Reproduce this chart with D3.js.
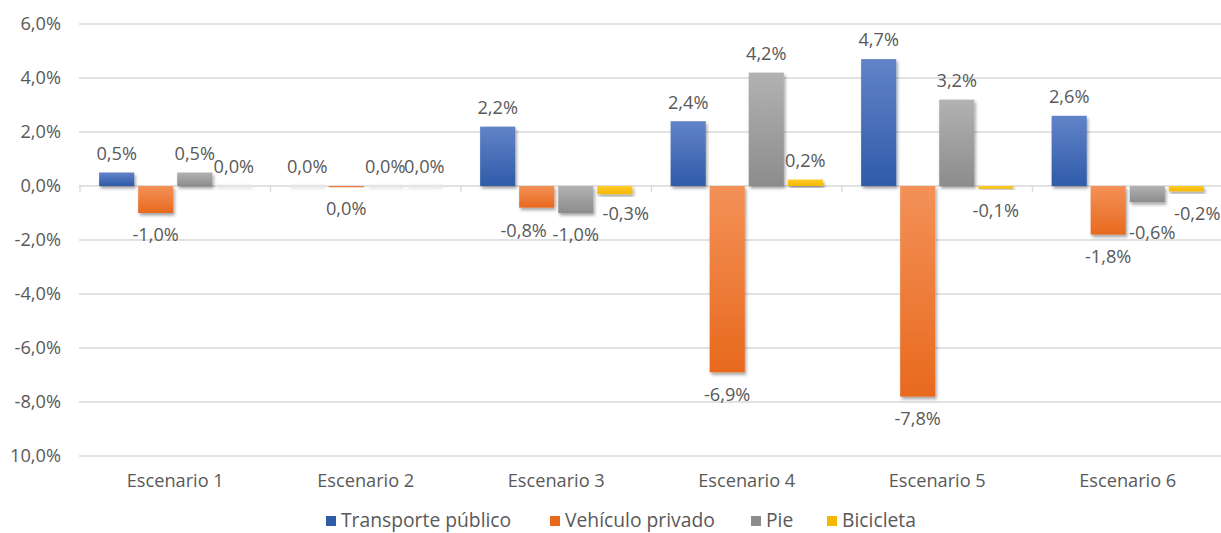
<!DOCTYPE html>
<html><head><meta charset="utf-8">
<script src="https://cdn.jsdelivr.net/npm/d3@7/dist/d3.min.js"></script>
<style>
body{margin:0;background:#fff;}
text{font-family:"Open Sans","Noto Sans",sans-serif;fill:#595959;}
</style></head>
<body><svg id="c" width="1221" height="533"></svg>
<script>
const categories = ["Escenario 1","Escenario 2","Escenario 3","Escenario 4","Escenario 5","Escenario 6"];
const seriesNames = ["Transporte público","Vehículo privado","Pie","Bicicleta"];
const transporte = [0.5, 0.0, 2.2, 2.4, 4.7, 2.6];
const vehiculo   = [-1.0, -0.04, -0.8, -6.9, -7.8, -1.8];
const pie        = [0.5, 0.0, -1.0, 4.2, 3.2, -0.6];
const bicicleta  = [0.0, 0.0, -0.3, 0.24, -0.1, -0.2];
const yTicks = [-10,-8,-6,-4,-2,0,2,4,6];
const yTickLabels = ["10,0%","-8,0%","-6,0%","-4,0%","-2,0%","0,0%","2,0%","4,0%","6,0%"];
const colors = [["#6283c8","#2f5ba9"],["#f39157","#e8691e"],["#b2b2b2","#8c8c8c"],["#ffcb2a","#f5b800"]];
// manual data-label nudges (style only), keyed "series-category": [dx, dy]
const labelNudge = {"1-2":[-13,1],"3-2":[11,-2],"2-5":[5,8],"3-5":[11,0]};

const allSeries = [transporte, vehiculo, pie, bicicleta];
const svg = d3.select("#c");
const defs = svg.append("defs");
colors.forEach((c,i)=>{
  const g = defs.append("linearGradient").attr("id","g"+i).attr("x1",0).attr("y1",0).attr("x2",0).attr("y2",1);
  g.append("stop").attr("offset","0%").attr("stop-color",c[0]);
  g.append("stop").attr("offset","100%").attr("stop-color",c[1]);
});
const f = defs.append("filter").attr("id","sh").attr("x","-20%").attr("y","-20%").attr("width","150%").attr("height","150%");
f.append("feDropShadow").attr("dx",1.5).attr("dy",2.5).attr("stdDeviation",1.8).attr("flood-color","#000").attr("flood-opacity",0.35);
const fz = defs.append("filter").attr("id","zs").attr("x","-20%").attr("y","-200%").attr("width","150%").attr("height","500%");
fz.append("feGaussianBlur").attr("stdDeviation",1.5);

const x = d3.scaleBand().domain(categories).range([80,1223]);
const xs = d3.scaleBand().domain(seriesNames).range([0,x.bandwidth()]).paddingInner(0.1).paddingOuter(0.49);
const y = d3.scaleLinear().domain([-10,6]).range([456,24]);
const FS = "18.2px";

// gridlines
svg.append("g").selectAll("line").data(yTicks.filter(d=>d!==0)).join("line")
  .attr("x1",79).attr("x2",1221).attr("y1",d=>y(d)).attr("y2",d=>y(d))
  .attr("stroke","#d9d9d9").attr("stroke-width",1.3);

// y labels
svg.append("g").selectAll("text").data(yTicks).join("text")
  .attr("x",61).attr("y",d=>y(d)).attr("dy","0.35em").attr("text-anchor","end")
  .style("font-size",FS).text((d,i)=>yTickLabels[i]);

// zero axis
svg.append("line").attr("x1",79).attr("x2",1221).attr("y1",y(0)).attr("y2",y(0)).attr("stroke","#d9d9d9").attr("stroke-width",1.3);
svg.append("g").selectAll("line").data(d3.range(categories.length+1)).join("line")
  .attr("x1",i=>80+i*x.step()).attr("x2",i=>80+i*x.step()).attr("y1",y(0)).attr("y2",y(0)+6)
  .attr("stroke","#d9d9d9").attr("stroke-width",1.3);

// x labels
svg.append("g").selectAll("text").data(categories).join("text")
  .attr("x",d=>x(d)+x.bandwidth()/2).attr("y",481).attr("dy","0.35em").attr("text-anchor","middle")
  .style("font-size",FS).text(d=>d);

const fmt = v => { const r = Math.round(v*10)/10; return (Math.abs(r)<0.05?"0,0":r.toFixed(1).replace(".",","))+"%"; };

const bars = svg.append("g");
const labels = svg.append("g");
allSeries.forEach((vals,si)=>{
  vals.forEach((v,ci)=>{
    const bx = x(categories[ci]) + xs(seriesNames[si]);
    const w = xs.bandwidth();
    if (v === 0) {
      bars.append("rect").attr("x",bx+1).attr("y",y(0)-1).attr("width",w).attr("height",4)
        .attr("fill","#e6e6e6").attr("filter","url(#zs)");
    } else {
      bars.append("rect").attr("x",bx).attr("y",y(Math.max(0,v))).attr("width",w)
        .attr("height",Math.max(1.2,Math.abs(y(v)-y(0))))
        .attr("fill","url(#g"+si+")").attr("filter","url(#sh)");
    }
    const nd = labelNudge[si+"-"+ci] || [0,0];
    const ly = (v < 0 ? y(v)+22 : y(v)-19) + nd[1];
    labels.append("text").attr("x",bx+w/2+nd[0]).attr("y",ly).attr("dy","0.35em").attr("text-anchor","middle")
      .style("font-size",FS).text(fmt(v));
  });
});

// legend
const legendX = [341,565,766,842];
const lg = svg.append("g");
seriesNames.forEach((n,i)=>{
  lg.append("rect").attr("x",legendX[i]-15).attr("y",516).attr("width",10).attr("height",10).attr("fill",colors[i][1]);
  lg.append("text").attr("x",legendX[i]).attr("y",520).attr("dy","0.35em").style("font-size","19.3px").text(n);
});
</script></body></html>
